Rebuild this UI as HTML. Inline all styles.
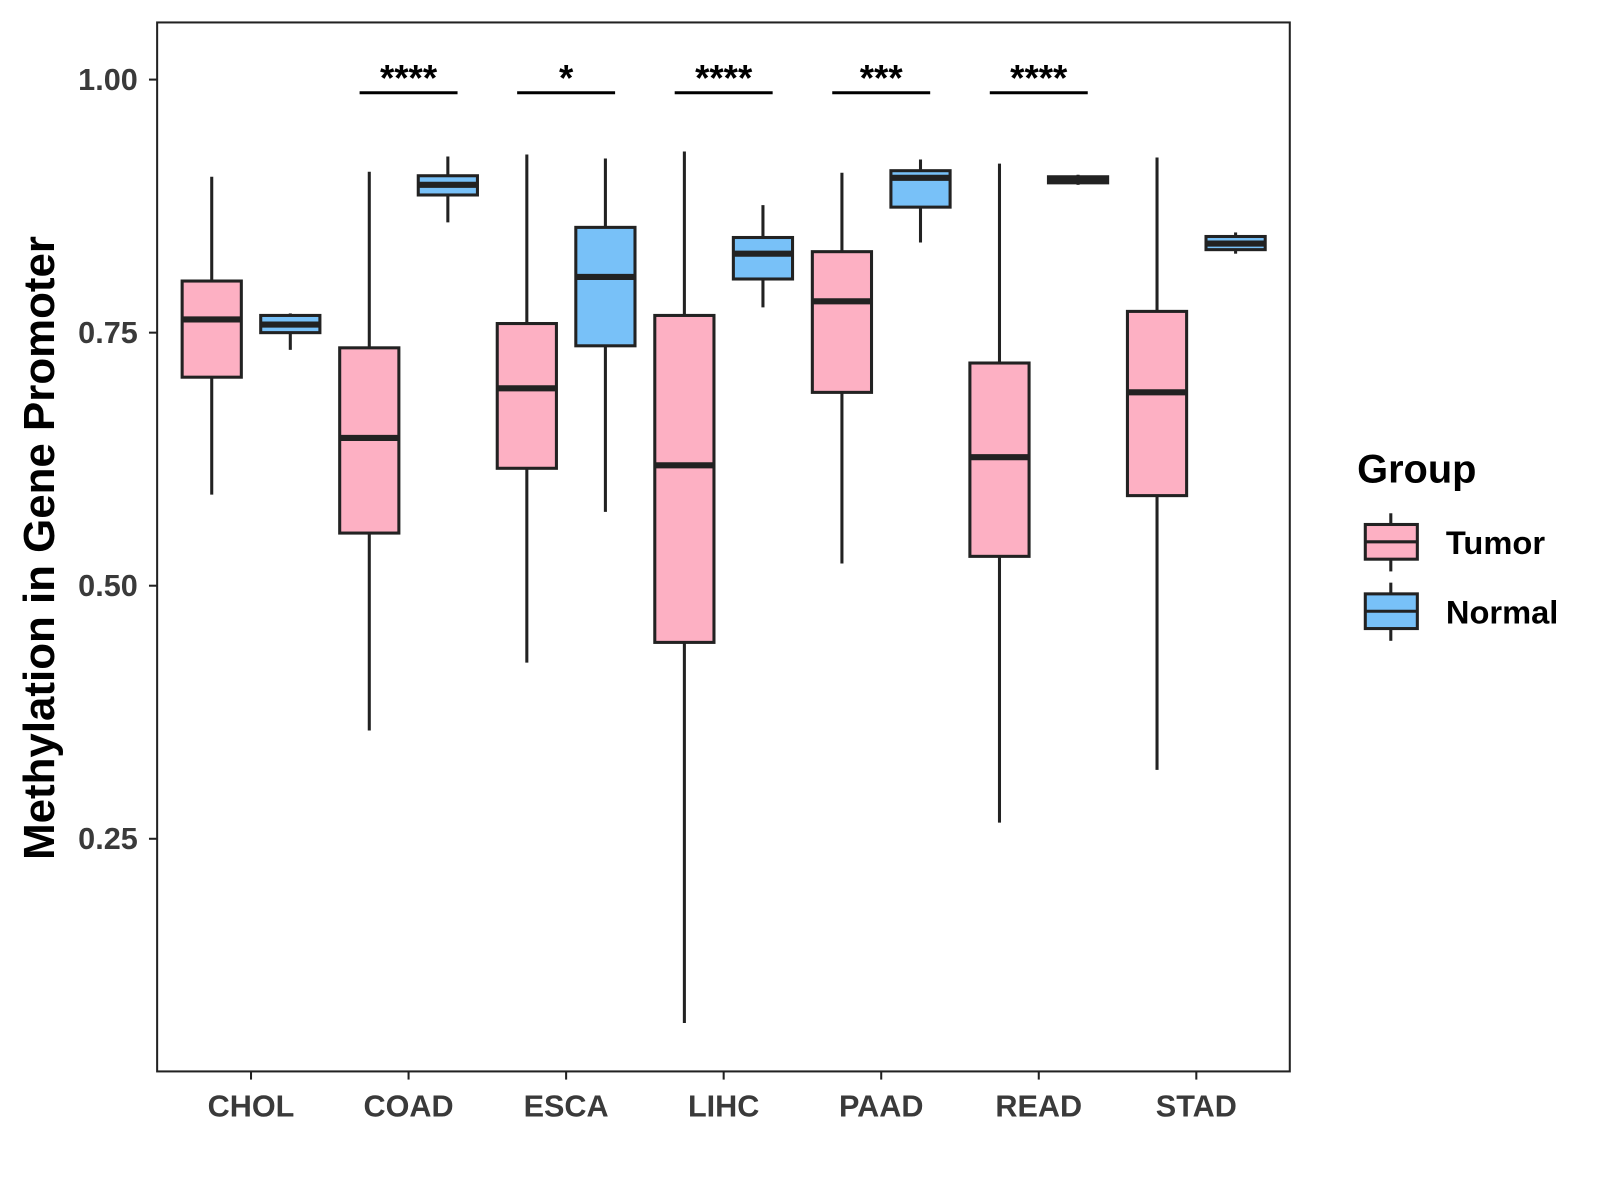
<!DOCTYPE html>
<html><head><meta charset="utf-8"><style>
body{margin:0;background:#fff;}
svg{display:block;font-family:"Liberation Sans",Arial,sans-serif;}
</style></head><body>
<svg id="chart" width="1600" height="1200" viewBox="0 0 1600 1200" xmlns="http://www.w3.org/2000/svg">
<rect x="0" y="0" width="1600" height="1200" fill="#fff"/>
<g transform="scale(1.0204)">
<g id="marks"></g>
<rect x="154" y="22" width="1110" height="1028" fill="none" stroke="#222" stroke-width="2"/>
<g id="axes"></g>
<text transform="translate(53,537) rotate(-90)" text-anchor="middle" font-size="43" font-weight="bold" fill="#000">Methylation in Gene Promoter</text>
<g>
<text x="1330" y="473" font-size="39" font-weight="bold">Group</text>
<g>
<line x1="1363" y1="503" x2="1363" y2="560" stroke="#222" stroke-width="3"/>
<rect x="1338" y="514" width="51" height="34" fill="#FDB0C3" stroke="#222" stroke-width="3"/>
<line x1="1338" y1="531" x2="1389" y2="531" stroke="#222" stroke-width="3"/>
<text x="1417" y="543" font-size="32" font-weight="bold">Tumor</text>
</g>
<g>
<line x1="1363" y1="571" x2="1363" y2="628" stroke="#222" stroke-width="3"/>
<rect x="1338" y="582" width="51" height="34" fill="#78C1F8" stroke="#222" stroke-width="3"/>
<line x1="1338" y1="599" x2="1389" y2="599" stroke="#222" stroke-width="3"/>
<text x="1417" y="611" font-size="32" font-weight="bold">Normal</text>
</g>
</g>
</g>
</svg>
<script>
const categories=["CHOL","COAD","ESCA","LIHC","PAAD","READ","STAD"];
const tumorLow=[0.590,0.357,0.424,0.068,0.522,0.266,0.318];
const tumorQ1=[0.706,0.552,0.616,0.444,0.691,0.529,0.589];
const tumorMed=[0.763,0.646,0.695,0.619,0.781,0.627,0.691];
const tumorQ3=[0.801,0.735,0.759,0.767,0.830,0.720,0.771];
const tumorHigh=[0.904,0.909,0.926,0.929,0.908,0.917,0.923];
const normalLow=[0.733,0.859,0.573,0.775,0.839,0.896,0.828];
const normalQ1=[0.750,0.886,0.737,0.803,0.874,0.898,0.832];
const normalMed=[0.758,0.896,0.805,0.828,0.903,0.901,0.838];
const normalQ3=[0.767,0.905,0.854,0.844,0.910,0.904,0.845];
const normalHigh=[0.769,0.924,0.922,0.876,0.921,0.906,0.849];
const signif=["","****","*","****","***","****",""];
const yTicks=[0.25,0.50,0.75,1.00];
const yTickLabels=["0.25","0.50","0.75","1.00"];
const sigLevel=0.987;

const NS="http://www.w3.org/2000/svg";
function y(v){return 78+(1-v)*992;}
function x(i){return 246+i*154.4;}
function mk(tag,attrs,parent){const e=document.createElementNS(NS,tag);for(const k in attrs)e.setAttribute(k,attrs[k]);parent.appendChild(e);return e;}
const marks=document.getElementById('marks');
const axes=document.getElementById('axes');
const W=58;
function box(cx,lo,q1,med,q3,hi,fill,name){
  const g=mk('g',{},marks);
  
  
  mk('line',{x1:cx,x2:cx,y1:y(hi),y2:y(lo),stroke:'#222','stroke-width':3},g);
  mk('rect',{x:cx-W/2,y:y(q3),width:W,height:Math.max(1,y(q1)-y(q3)),fill:fill,stroke:'#222','stroke-width':3},g);
  mk('line',{x1:cx-W/2,x2:cx+W/2,y1:y(med),y2:y(med),stroke:'#222','stroke-width':6},g);
}
categories.forEach((c,i)=>{
  box(x(i)-38.5,tumorLow[i],tumorQ1[i],tumorMed[i],tumorQ3[i],tumorHigh[i],'#FDB0C3','box-tumor-'+c.toLowerCase());
  box(x(i)+38.5,normalLow[i],normalQ1[i],normalMed[i],normalQ3[i],normalHigh[i],'#78C1F8','box-normal-'+c.toLowerCase());
  if(signif[i]){
    const l=mk('line',{x1:x(i)-48,x2:x(i)+48,y1:y(sigLevel),y2:y(sigLevel),stroke:'#000','stroke-width':3},marks);
    
    
    const t=mk('text',{x:x(i),y:y(sigLevel)-2,'text-anchor':'middle','font-size':36,'font-weight':'bold',fill:'#000'},marks);
    t.textContent=signif[i];
    
    
  }
  const tk=mk('line',{x1:x(i),x2:x(i),y1:1050,y2:1058,stroke:'#222','stroke-width':2},axes);
  
  
  const xl=mk('text',{x:x(i),y:1094,'text-anchor':'middle','font-size':30,'font-weight':'bold',fill:'#3a3a3a'},axes);
  xl.textContent=c;
  
  
});
yTicks.forEach((v,i)=>{
  const tk=mk('line',{x1:146,x2:154,y1:y(v),y2:y(v),stroke:'#222','stroke-width':2},axes);
  
  
  const t=mk('text',{x:135,y:y(v)+10,'text-anchor':'end','font-size':30,'font-weight':'bold',fill:'#3a3a3a'},axes);
  t.textContent=yTickLabels[i];
  
  
});
</script>
</body></html>
